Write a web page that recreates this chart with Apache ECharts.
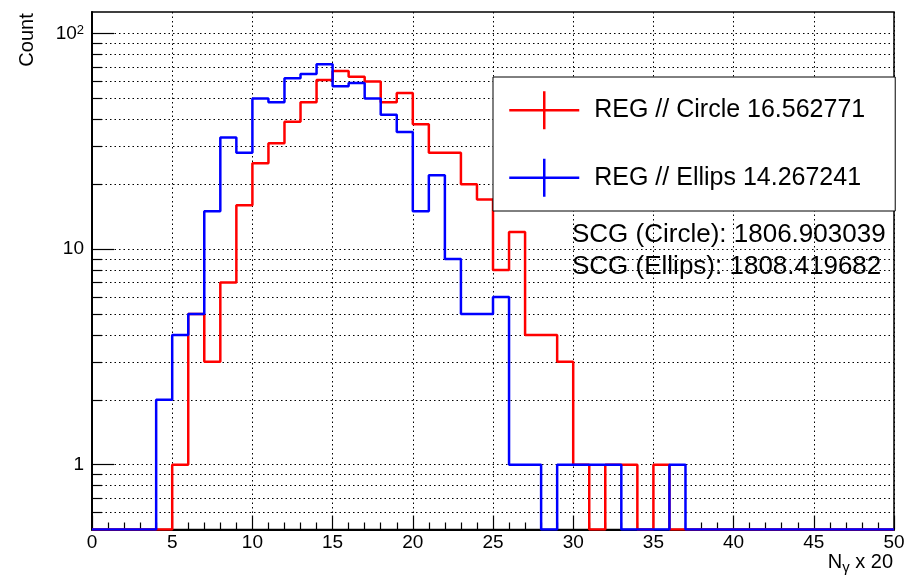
<!DOCTYPE html>
<html>
<head>
<meta charset="utf-8">
<script src="https://cdn.jsdelivr.net/npm/echarts@6/dist/echarts.min.js"></script>
<style>
html,body{margin:0;padding:0;background:#fff;}
#main{width:908px;height:575px;}
</style>
</head>
<body>
<div id="main"></div>
<script>
// ---- data (counts per bin, bins of width 1 from 0 to 50) ----
const binStart = 0;
const binWidth = 1;
const circleCounts = [0,0,0,0,0,1,5,3,7,16,25,31,39,48,61,67,63,60,48,53,38,28,28,20,17,8,12,4,4,3,1,0,1,1,0,1,0,0,0,0,0,0,0,0,0,0,0,0,0,0];
const ellipsCounts = [0,0,0,0,2,4,5,15,33,28,50,48,62,65,72,57,59,50,42,35,15,22,9,5,5,6,1,1,0,1,1,1,1,0,0,0,1,0,0,0,0,0,0,0,0,0,0,0,0,0];
const seriesNames = ['REG // Circle 16.562771', 'REG // Ellips 14.267241'];
const seriesColors = ['#ff0000', '#0000ff'];
const scgLines = ['SCG (Circle): 1806.903039', 'SCG (Ellips): 1808.419682'];
const xTickLabels = [0,5,10,15,20,25,30,35,40,45,50];
const yMajorTicks = [1, 10, 100];
const yMinorTicks = [0.6,0.7,0.8,0.9,2,3,4,5,6,7,8,9,20,30,40,50,60,70,80,90];
const yMin = 0.5, yMax = 126;
const xMin = 0, xMax = 50;

const FONT = "'Liberation Sans', Arial, Helvetica, sans-serif";

function stepData(counts) {
  const pts = counts.map((v, i) => [binStart + i * binWidth, v > 0 ? v : yMin]);
  const last = counts[counts.length - 1];
  pts.push([binStart + counts.length * binWidth, last > 0 ? last : yMin]);
  return pts;
}

const dotted = {type: [1.5, 3], color: '#000', width: 1};

const chart = echarts.init(document.getElementById('main'), null, {renderer: 'canvas'});
chart.setOption({
  animation: false,
  backgroundColor: '#fff',
  grid: {left: 92, right: 14, top: 12, bottom: 45.5, show: true, borderColor: '#000', borderWidth: 1.5, containLabel: false},
  xAxis: {
    type: 'value', min: xMin, max: xMax, interval: 5,
    axisLine: {show: true, onZero: false, lineStyle: {color: '#000', width: 2}},
    axisTick: {show: true, inside: true, length: 14, lineStyle: {color: '#000', width: 1.2}},
    minorTick: {show: true, splitNumber: 5, length: 7, lineStyle: {color: '#000', width: 1.2}},
    axisLabel: {fontSize: 19, color: '#000', fontFamily: FONT, margin: 4,
      formatter: v => String(xTickLabels.find(t => Math.abs(t - v) < 1e-6) ?? v)},
    splitLine: {show: true, lineStyle: dotted},
    minorSplitLine: {show: false}
  },
  yAxis: [
    {
      type: 'log', logBase: 10, min: yMin, max: yMax, position: 'left',
      axisLine: {show: true, onZero: false, lineStyle: {color: '#000', width: 2}},
      axisTick: {show: true, inside: true, length: 22, customValues: yMajorTicks, lineStyle: {color: '#000', width: 1.2}},
      axisLabel: {customValues: yMajorTicks, fontSize: 19, color: '#000', fontFamily: FONT, margin: 8,
        formatter: function (v) {
          if (Math.abs(v - 100) < 1e-6) return '{a|10}{s|2}';
          return '{a|' + String(Math.round(v)) + '}';
        },
        rich: {
          a: {fontSize: 19, lineHeight: 19, verticalAlign: 'top', fontFamily: FONT, color: '#000'},
          s: {fontSize: 13, lineHeight: 13, verticalAlign: 'top', padding: [0, 0, 6, 0], fontFamily: FONT, color: '#000'}
        }
      },
      splitLine: {show: true, lineStyle: dotted},
      minorTick: {show: false}, minorSplitLine: {show: false}
    },
    {
      type: 'log', logBase: 10, min: yMin, max: yMax, position: 'left',
      axisLine: {show: false},
      axisTick: {show: true, inside: true, length: 10, customValues: yMinorTicks, lineStyle: {color: '#000', width: 1.2}},
      axisLabel: {show: false},
      splitLine: {show: true, lineStyle: dotted},
      minorTick: {show: false}, minorSplitLine: {show: false}
    }
  ],
  legend: {
    orient: 'vertical', left: 493, top: 77,
    padding: [13, 30, 13, 15],
    itemWidth: 70, itemHeight: 38, itemGap: 27,
    backgroundColor: '#fff', borderColor: '#000', borderWidth: 1,
    symbolKeepAspect: false, selectedMode: false, z: 10,
    textStyle: {fontSize: 25, color: '#000', fontFamily: FONT, padding: [0, 0, 0, 10]},
    data: seriesNames.map((n, i) => ({
      name: n,
      icon: 'path://M0,19L70,19M35,0L35,38',
      itemStyle: {color: seriesColors[i], borderColor: seriesColors[i], borderWidth: 2.5}
    }))
  },
  graphic: [
    {type: 'text', left: 572, top: 219, z: 20,
      style: {text: scgLines.join('\n'), fontSize: 26, lineHeight: 32, fill: '#000', fontFamily: FONT}},
    {type: 'text', x: 27, y: 40, rotation: Math.PI / 2, z: 20,
      style: {text: 'Count', fontSize: 20, fill: '#000', fontFamily: FONT, align: 'center', verticalAlign: 'middle'}},
    {type: 'text', right: 15, top: 552, z: 20,
      style: {text: '{a|N}{s|γ}{a| x 20}', fill: '#000', fontFamily: FONT,
        rich: {
          a: {fontSize: 20, lineHeight: 20, verticalAlign: 'top', fontFamily: FONT, fill: '#000'},
          s: {fontSize: 15, lineHeight: 15, verticalAlign: 'top', padding: [8, 0, 0, 0], fontFamily: FONT, fill: '#000'}
        }}}
  ],
  series: [
    {name: seriesNames[0], type: 'line', step: 'end', showSymbol: false, symbol: 'none',
      xAxisIndex: 0, yAxisIndex: 0, data: stepData(circleCounts),
      lineStyle: {color: seriesColors[0], width: 2.5}, itemStyle: {color: seriesColors[0]}, z: 3},
    {name: seriesNames[1], type: 'line', step: 'end', showSymbol: false, symbol: 'none',
      xAxisIndex: 0, yAxisIndex: 0, data: stepData(ellipsCounts),
      lineStyle: {color: seriesColors[1], width: 2.5}, itemStyle: {color: seriesColors[1]}, z: 4}
  ]
});
</script>
</body>
</html>
